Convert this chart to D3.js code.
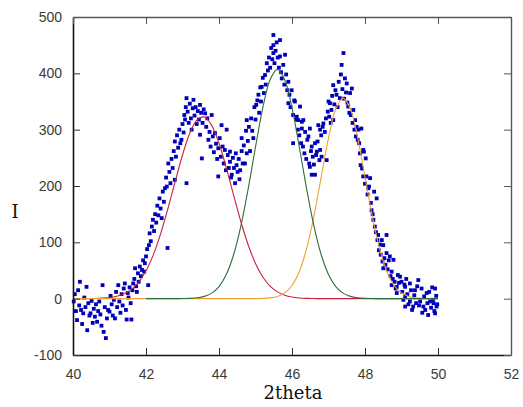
<!DOCTYPE html>
<html>
<head>
<meta charset="utf-8">
<script src="https://cdn.jsdelivr.net/npm/d3@7"></script>
<style>
  body { margin: 0; background: #fff; }
  svg { display: block; }
</style>
</head>
<body>
<svg id="chart" width="523" height="407"></svg>
<script>
// measured points [2theta, I]
var points = [
  [40.02,-5],[40.05,8],[40.08,-22],[40.11,-38],[40.14,15],[40.17,-12],[40.19,30],[40.22,-20],[40.25,-45],[40.28,-26],
  [40.31,2],[40.34,-15],[40.37,21],[40.39,-56],[40.42,-8],[40.45,-30],[40.48,-26],[40.51,-4],[40.54,-43],[40.57,-18],
  [40.60,-32],[40.63,-10],[40.66,-41],[40.69,-22],[40.72,-5],[40.75,-28],[40.78,-48],[40.81,24],[40.84,-59],[40.87,-15],
  [40.90,-70],[40.93,-35],[40.96,-20],
  [41.00,-23],[41.03,5],[41.06,-10],[41.09,-30],[41.12,-2],[41.15,-35],[41.18,12],[41.21,-15],[41.24,24],[41.27,-5],
  [41.30,-25],[41.33,8],[41.36,-12],[41.39,18],[41.42,27],[41.45,-20],[41.47,-37],[41.50,10],[41.52,2],[41.55,20],
  [41.58,-8],[41.60,-37],[41.63,15],[41.65,27],[41.68,35],[41.70,54],[41.73,22],[41.75,12],[41.78,45],[41.80,30],
  [41.83,57],[41.86,40],[41.89,51],[41.92,68],[41.95,48],[41.97,63],
  [42.00,75],[42.03,88],[42.06,24],[42.08,95],[42.10,116],[42.13,102],[42.16,128],[42.19,140],[42.22,120],[42.25,150],
  [42.28,135],[42.31,165],[42.34,148],[42.37,178],[42.40,160],[42.43,143],[42.46,190],[42.49,172],[42.52,196],[42.55,215],
  [42.57,199],[42.59,90],[42.61,240],[42.64,225],[42.67,205],[42.70,248],[42.73,232],[42.76,262],[42.79,211],[42.79,279],
  [42.82,252],[42.85,290],[42.88,268],[42.91,300],[42.94,276],[42.97,282],
  [43.00,310],[43.03,295],[43.05,326],[43.07,318],[43.09,340],[43.11,356],[43.11,205],[43.14,332],[43.17,312],[43.20,346],
  [43.23,320],[43.25,300],[43.28,338],[43.30,353],[43.33,325],[43.36,340],[43.39,310],[43.42,333],[43.45,318],[43.48,344],
  [43.48,291],[43.51,330],[43.53,249],[43.55,312],[43.58,336],[43.62,329],[43.65,305],[43.68,320],[43.71,282],[43.74,296],
  [43.77,270],[43.80,326],[43.83,288],[43.86,260],[43.89,294],[43.92,275],[43.95,248],[43.98,267],[43.98,217],
  [44.02,285],[44.05,252],[44.07,308],[44.10,270],[44.13,240],[44.16,264],[44.19,228],[44.21,300],[44.24,255],[44.27,232],
  [44.30,261],[44.30,243],[44.33,215],[44.35,220],[44.38,250],[44.41,232],[44.44,205],[44.46,258],[44.48,237],[44.51,225],
  [44.54,248],[44.56,212],[44.58,228],[44.62,285],[44.62,262],[44.65,240],[44.68,272],[44.71,240],[44.74,298],[44.76,258],
  [44.76,317],[44.79,280],[44.82,305],[44.85,262],[44.88,320],[44.91,298],[44.94,285],[44.97,340],
  [45.00,318],[45.02,344],[45.05,352],[45.08,362],[45.10,330],[45.13,375],[45.15,350],[45.17,376],[45.20,392],[45.23,365],
  [45.26,397],[45.28,380],[45.31,418],[45.34,405],[45.37,428],[45.40,410],[45.43,445],[45.46,425],[45.49,436],[45.49,468],
  [45.49,450],[45.52,418],[45.55,440],[45.58,455],[45.61,428],[45.64,410],[45.67,459],[45.67,430],[45.70,402],[45.72,391],
  [45.76,415],[45.79,380],[45.81,433],[45.84,398],[45.87,370],[45.90,385],[45.90,347],[45.93,362],[45.96,340],[45.99,370],
  [46.03,326],[46.03,276],[46.06,352],[46.08,350],[46.11,318],[46.13,323],[46.16,300],[46.17,317],[46.20,290],[46.22,341],
  [46.25,276],[46.27,302],[46.27,314],[46.30,270],[46.31,317],[46.34,258],[46.36,296],[46.39,248],[46.42,282],[46.45,288],
  [46.47,240],[46.49,302],[46.49,234],[46.52,262],[46.54,270],[46.54,220],[46.57,252],[46.60,238],[46.63,276],[46.63,220],
  [46.66,255],[46.68,261],[46.70,279],[46.72,308],[46.75,246],[46.77,300],[46.77,264],[46.80,290],[46.81,252],[46.84,305],
  [46.86,311],[46.90,296],[46.93,320],[46.95,246],[46.98,332],
  [47.00,350],[47.02,323],[47.04,347],[47.06,312],[47.08,335],[47.10,360],[47.13,379],[47.13,317],[47.16,345],[47.19,370],
  [47.22,362],[47.25,340],[47.28,385],[47.31,356],[47.34,398],[47.36,415],[47.38,372],[47.41,436],[47.43,355],[47.45,391],
  [47.48,366],[47.50,382],[47.52,348],[47.54,341],[47.57,330],[47.59,365],[47.61,326],[47.64,373],[47.66,312],[47.68,335],
  [47.71,300],[47.73,317],[47.75,288],[47.77,305],[47.80,282],[47.82,300],[47.84,276],[47.86,258],[47.88,237],[47.90,302],
  [47.92,231],[47.95,264],[47.95,217],[47.97,261],
  [48.00,204],[48.02,249],[48.04,217],[48.07,185],[48.09,196],[48.11,199],[48.14,214],[48.16,170],[48.18,157],[48.21,150],
  [48.23,140],[48.25,190],[48.27,128],[48.30,118],[48.32,178],[48.34,104],[48.36,113],[48.38,86],[48.41,96],[48.43,78],
  [48.46,104],[48.48,66],[48.50,95],[48.50,54],[48.53,72],[48.56,60],[48.59,113],[48.59,81],[48.62,52],[48.65,68],
  [48.68,75],[48.70,40],[48.73,48],[48.73,24],[48.76,35],[48.78,69],[48.81,30],[48.84,18],[48.87,21],[48.87,10],
  [48.90,42],[48.93,28],[48.96,39],
  [49.00,30],[49.02,12],[49.05,-2],[49.08,25],[49.10,21],[49.10,4],[49.10,-14],[49.13,35],[49.16,8],[49.19,-10],
  [49.23,27],[49.23,-5],[49.26,15],[49.29,-20],[49.32,-14],[49.35,6],[49.37,15],[49.40,-8],[49.43,22],[49.46,33],
  [49.48,-12],[49.51,-5],[49.55,18],[49.57,-25],[49.60,-14],[49.62,4],[49.65,-20],[49.69,10],[49.71,-8],[49.73,-29],
  [49.76,12],[49.78,-5],[49.81,-16],[49.84,20],[49.86,-2],[49.88,-8],[49.90,-22],[49.92,18],[49.92,-26],[49.95,5],
  [49.96,-14],[49.98,-10]
]

// fitted peaks at 0.2 steps
var fitX = [40.0,40.2,40.4,40.6,40.8,41.0,41.2,41.4,41.6,41.8,
            42.0,42.2,42.4,42.6,42.8,43.0,43.2,43.4,43.6,43.8,
            44.0,44.2,44.4,44.6,44.8,45.0,45.2,45.4,45.6,45.8,
            46.0,46.2,46.4,46.6,46.8,47.0,47.2,47.4,47.6,47.8,
            48.0,48.2,48.4,48.6,48.8,49.0,49.2,49.4,49.6,49.8,50.0]
var peakRed = [0,0,0,0.3,0.9,2.0,4.3,8.7,16.5,29.6,
               49.4,77.7,115,159.6,208,255,293.6,317.4,322.4,307.6,
               275.8,232.2,183.7,136.5,95.3,62.5,38.5,22.3,12.1,6.2,
               3.0,1.3,0.5,0.2,0,0,0,0,0,0,
               0,0,0,0,0,0,0,0,0,0,0]
var peakGreen = [0,0,0,0,0,0,0,0,0,0,
                 0,0,0,0,0,0.2,0.5,1.6,4.1,9.9,
                 21.5,42.9,77.9,129.1,195.2,269.2,338.7,388.7,407,388.7,
                 338.7,269.2,195.2,129.1,77.9,42.9,21.5,9.9,4.1,1.6,
                 0.5,0.2,0,0,0,0,0,0,0,0,0]
var peakOrange = [0,0,0,0,0,0,0,0,0,0,
                  0,0,0,0,0,0,0,0,0,0,
                  0,0,0,0,0,0.1,0.4,1.4,4.0,10.2,
                  23.4,48.2,88.8,146.4,215.9,285.1,336.8,356,336.8,285.1,
                  215.9,146.4,88.8,48.2,23.4,10.2,4.0,1.4,0.4,0.1,0]

var xTicks = [40, 42, 44, 46, 48, 50, 52]
var yTicks = [-100, 0, 100, 200, 300, 400, 500]

/// frame  (plot_top, not "top": that one is taken by window.top)
var plot_left = 73, plot_right = 511, plot_top = 17, plot_bottom = 355

var svg = d3.select("#chart")

var x = d3.scaleLinear().domain([40, 52]).range([plot_left, plot_right])
var y = d3.scaleLinear().domain([-100, 500]).range([plot_bottom, plot_top])

// scatter
svg.append("g").selectAll("rect")
  .data(points)
  .enter()
  .append("rect")
    .attr("x", function(d) { return x(d[0]) - 1.9 })
    .attr("y", function(d) { return y(d[1]) - 1.9 })
    .attr("width", 3.8)
    .attr("height", 3.8)
    .attr("fill", "#0000b8")

// fit curves: red, orange, green on top (as in the picture)
var peaks = [
  {vals: peakRed, col: "#c8203c", from: 40},
  {vals: peakOrange, col: "#f0a032", from: 40},
  {vals: peakGreen, col: "#2f6e3a", from: 42}
]

var line = d3.line()
  .curve(d3.curveCatmullRom)
  .x(function(d) { return x(d[0]) })
  .y(function(d) { return y(d[1]) })

peaks.forEach(function(p) {
  var pts = fitX.map(function(v, i) { return [v, p.vals[i]] })
    .filter(function(d) { return d[0] >= p.from })
  svg.append("path")
    .attr("d", line(pts))
    .attr("fill", "none")
    .attr("stroke", p.col)
    .attr("stroke-width", 1.1)
})

// axes (ticks point inward on all four sides)
var tickFont = "'Liberation Sans', Arial, sans-serif"
var plainNum = function(d) { return String(d) }   // keeps "-100" with a hyphen

svg.append("g")
  .attr("transform", "translate(0," + plot_bottom + ")")
  .call(d3.axisBottom(x).tickValues(xTicks).tickFormat(plainNum).tickSizeInner(-7).tickSizeOuter(0).tickPadding(14))
  .call(function(g) {
    g.select(".domain").attr("stroke", "#111").attr("stroke-width", 1.6)
    g.selectAll(".tick line").attr("stroke", "#333")
    g.selectAll("text").attr("fill", "#3a3a3a").style("font-size", "14px").style("font-family", tickFont)
  })

svg.append("g")
  .attr("transform", "translate(" + plot_left + ",0)")
  .call(d3.axisLeft(y).tickValues(yTicks).tickFormat(plainNum).tickSizeInner(-7).tickSizeOuter(0).tickPadding(11))
  .call(function(g) {
    g.select(".domain").attr("stroke", "#111").attr("stroke-width", 1.6)
    g.selectAll(".tick line").attr("stroke", "#333")
    g.selectAll("text").attr("fill", "#3a3a3a").style("font-size", "14px").style("font-family", tickFont)
  })

svg.append("g")
  .attr("transform", "translate(0," + plot_top + ")")
  .call(d3.axisTop(x).tickValues(xTicks).tickSizeInner(-7).tickSizeOuter(0).tickFormat(""))
  .call(function(g) {
    g.select(".domain").attr("stroke", "#555").attr("stroke-width", 1.4)
    g.selectAll(".tick line").attr("stroke", "#555")
  })

svg.append("g")
  .attr("transform", "translate(" + plot_right + ",0)")
  .call(d3.axisRight(y).tickValues(yTicks).tickSizeInner(-7).tickSizeOuter(0).tickFormat(""))
  .call(function(g) {
    g.select(".domain").attr("stroke", "#555").attr("stroke-width", 1.4)
    g.selectAll(".tick line").attr("stroke", "#555")
  })

// axis titles
svg.append("text")
  .attr("x", 293)
  .attr("y", 399)
  .attr("text-anchor", "middle")
  .style("font-family", "'DejaVu Serif', serif")
  .style("font-size", "18px")
  .attr("fill", "#111")
  .text("2theta")

svg.append("text")
  .attr("x", 15)
  .attr("y", 218)
  .attr("text-anchor", "middle")
  .style("font-family", "'DejaVu Serif', serif")
  .style("font-size", "18px")
  .attr("fill", "#111")
  .text("I")
</script>
</body>
</html>
